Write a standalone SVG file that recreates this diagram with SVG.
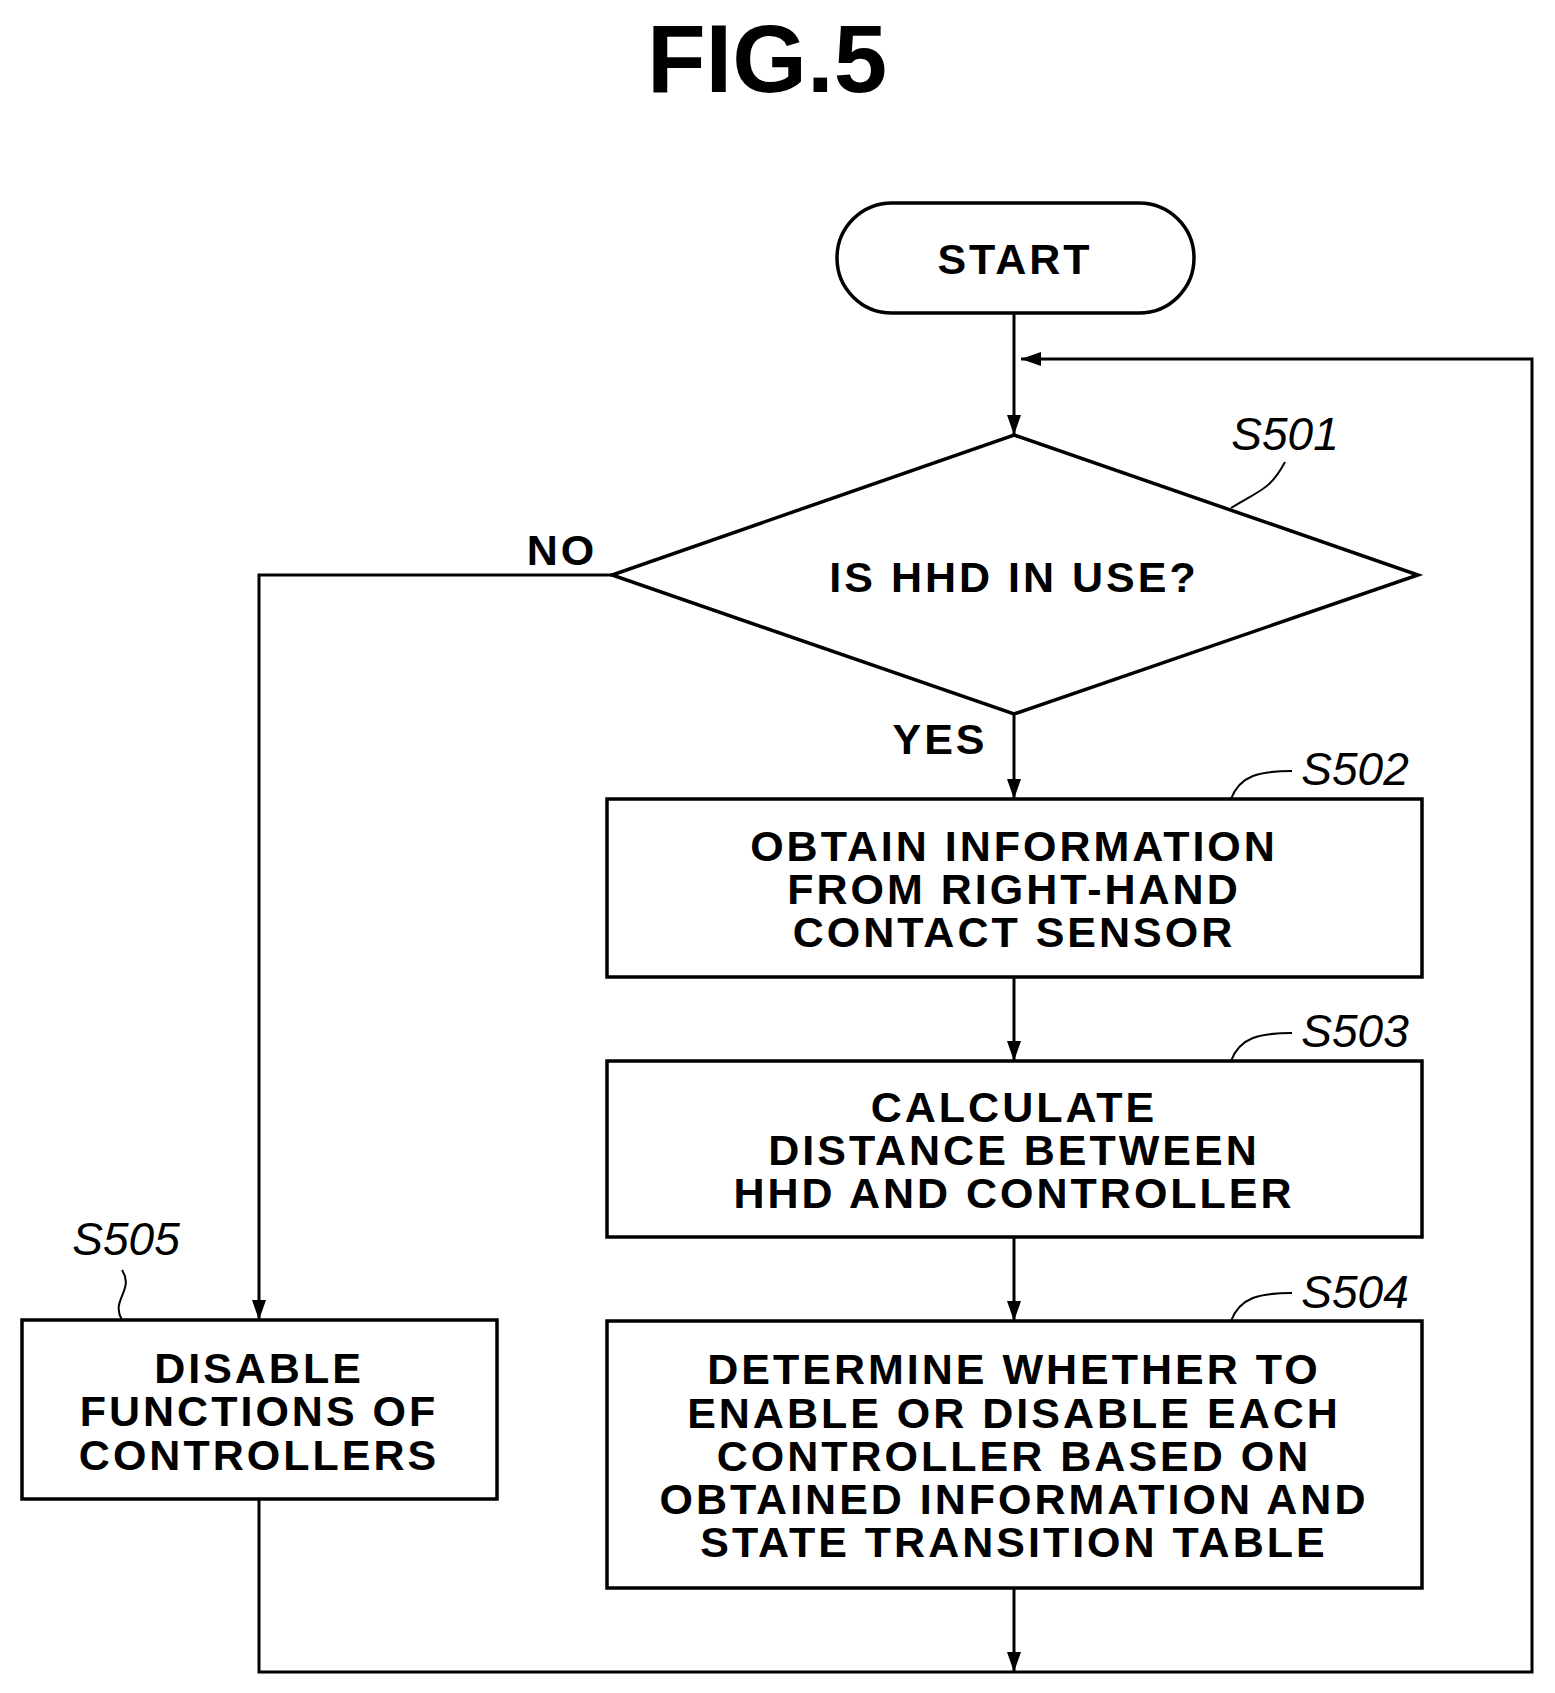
<svg xmlns="http://www.w3.org/2000/svg" width="1555" height="1693" viewBox="0 0 1555 1693">
<style>
.t{font-family:"Liberation Sans",Arial,sans-serif;font-weight:bold;font-size:43px;letter-spacing:3px;text-anchor:middle;fill:#000}
.l{font-family:"Liberation Sans",Arial,sans-serif;font-style:italic;font-size:46px;text-anchor:middle;fill:#000}
.s{fill:#fff;stroke:#000;stroke-width:3.5}
.c{fill:none;stroke:#000;stroke-width:3}
.ld{fill:none;stroke:#000;stroke-width:2}
</style>
<defs>
<marker id="ah" viewBox="0 0 20 20" refX="20" refY="10" markerWidth="20" markerHeight="20" orient="auto" markerUnits="userSpaceOnUse"><path d="M0,3L20,10L0,17z"/></marker></defs>
<text x="767" y="92" class="t" style="font-size:96px;letter-spacing:0">FIG.5</text>
<g id="connectors">
<path class="c" d="M1014,313V435" marker-end="url(#ah)"/>
<path class="c" d="M1014,714V799" marker-end="url(#ah)"/>
<path class="c" d="M1014,977V1061" marker-end="url(#ah)"/>
<path class="c" d="M1014,1237V1321" marker-end="url(#ah)"/>
<path class="c" d="M1014,1588V1672" marker-end="url(#ah)"/>
<path class="c" d="M612,575H259V1320" marker-end="url(#ah)"/>
<path class="c" d="M259,1499V1672H1532V359H1021" marker-end="url(#ah)"/>
<text x="562" y="565" class="t">NO</text>
<text x="940" y="754" class="t">YES</text>
</g>
<g id="start"><rect class="s" x="837" y="203" width="357" height="110" rx="55"/><text x="1015" y="274" class="t">START</text></g>
<g id="s501"><path class="s" d="M1014,435L1418,575L1014,714L612,575z"/><text x="1014" y="592" class="t">IS HHD IN USE?</text>
<text x="1285" y="450" class="l">S501</text><path class="ld" d="M1231,508C1260,490 1270,490 1285,462"/></g>
<g id="s502"><rect class="s" x="607" y="799" width="815" height="178"/>
<text class="t"><tspan x="1014" y="861">OBTAIN INFORMATION</tspan><tspan x="1014" y="904">FROM RIGHT-HAND</tspan><tspan x="1014" y="947">CONTACT SENSOR</tspan></text>
<text x="1355" y="785" class="l">S502</text><path class="ld" d="M1231,799C1240,775 1260,771 1292,771"/></g>
<g id="s503"><rect class="s" x="607" y="1061" width="815" height="176"/>
<text class="t"><tspan x="1014" y="1122">CALCULATE</tspan><tspan x="1014" y="1165">DISTANCE BETWEEN</tspan><tspan x="1014" y="1208">HHD AND CONTROLLER</tspan></text>
<text x="1355" y="1047" class="l">S503</text><path class="ld" d="M1231,1061C1240,1037 1260,1033 1292,1033"/></g>
<g id="s504"><rect class="s" x="607" y="1321" width="815" height="267"/>
<text class="t"><tspan x="1014" y="1384">DETERMINE WHETHER TO</tspan><tspan x="1014" y="1428">ENABLE OR DISABLE EACH</tspan><tspan x="1014" y="1471">CONTROLLER BASED ON</tspan><tspan x="1014" y="1514">OBTAINED INFORMATION AND</tspan><tspan x="1014" y="1557">STATE TRANSITION TABLE</tspan></text>
<text x="1355" y="1308" class="l">S504</text><path class="ld" d="M1231,1321C1240,1297 1260,1293 1292,1293"/></g>
<g id="s505"><rect class="s" x="22" y="1320" width="475" height="179"/>
<text class="t"><tspan x="259" y="1383">DISABLE</tspan><tspan x="259" y="1426">FUNCTIONS OF</tspan><tspan x="259" y="1470">CONTROLLERS</tspan></text>
<text x="126" y="1255" class="l">S505</text><path class="ld" d="M122,1320C110,1300 135,1290 122,1270"/></g>
</svg>
